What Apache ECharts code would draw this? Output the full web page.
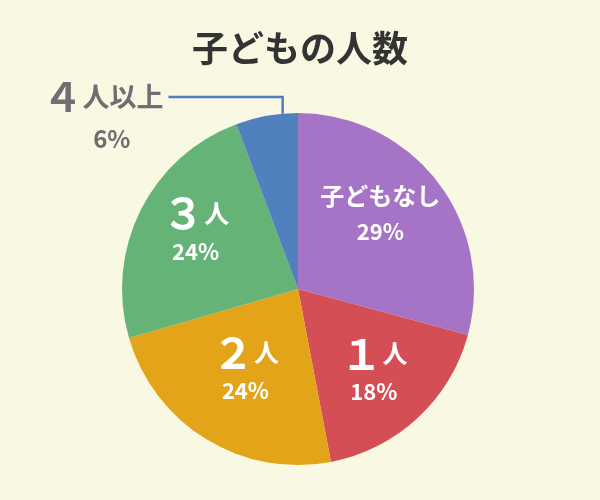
<!DOCTYPE html>
<html>
<head>
<meta charset="utf-8">
<script src="https://cdn.jsdelivr.net/npm/echarts@6/dist/echarts.min.js"></script>
<style>
  html, body { margin: 0; padding: 0; background: #f9f8e3; }
  #main { width: 600px; height: 500px; }
</style>
</head>
<body>
<div id="main"></div>
<script>
// 子どもの人数
var categories = ['子どもなし', '１人', '２人', '３人', '４人以上'];
var values = [29.2, 17.8, 23.5, 23.8, 5.7];
var colors = ['#a674c6', '#d44f55', '#e3a41a', '#66b378', '#5180bf'];
// ラベルの微調整
var labelShift = [[10, -20], [14, 16], [-5, 4], [-21, -17], [0, 0]];
var FONT = '"Noto Sans CJK JP", "Noto Sans", sans-serif';
var pieCenter = [298, 289];
var pieRadius = 176;

var insideFormatter = function (p) {
    var pct = Math.round(p.percent) + '%';
    if (p.name === '子どもなし') {
        return '{t|' + p.name + '}\n{p|' + pct + '}';
    }
    return '{n|' + p.name.charAt(0) + '}{u|' + p.name.slice(1) + '}\n{p|' + pct + '}';
};

var items = [];
for (var i = 0; i < categories.length; i++) {
    items[i] = { name: categories[i], value: values[i], itemStyle: { color: colors[i] } };
}
// ４人以上 は外側ラベル
items[4].label = {
    position: 'outside',
    color: '#6f6f73',
    padding: [40, 0, 0, 0],
    formatter: function (p) {
        return '{n|' + p.name.charAt(0) + '}{u|' + p.name.slice(1) + '}\n{p|' + Math.round(p.percent) + '%}';
    },
    rich: {
        n: { fontFamily: FONT, fontSize: 40, fontWeight: 'bold', color: '#6f6f73', lineHeight: 42 },
        u: { fontFamily: FONT, fontSize: 27, fontWeight: 'bold', color: '#6f6f73', lineHeight: 42 },
        p: { fontFamily: FONT, fontSize: 24, fontWeight: 'bold', color: '#6f6f73', lineHeight: 42, padding: [0, 33, 0, 0] }
    }
};
items[4].labelLine = {
    show: true,
    length: 18,
    length2: 95,
    lineStyle: { color: '#5180bf', width: 2.5 }
};

var chart = echarts.init(document.getElementById('main'));
var option = {
    backgroundColor: '#f9f8e3',
    animation: false,
    title: {
        text: '子どもの人数',
        left: 'center',
        top: 30,
        padding: 0,
        textStyle: { fontFamily: FONT, fontSize: 36, fontWeight: 'bold', color: '#333333' }
    },
    series: [{
        type: 'pie',
        center: pieCenter,
        radius: [0, pieRadius],
        startAngle: 90,
        clockwise: true,
        avoidLabelOverlap: false,
        label: {
            show: true,
            position: 'inside',
            color: '#ffffff',
            formatter: insideFormatter,
            rich: {
                t: { fontFamily: FONT, fontSize: 24, fontWeight: 'bold', color: '#fff', lineHeight: 36 },
                n: { fontFamily: FONT, fontSize: 42, fontWeight: 'bold', color: '#fff', lineHeight: 40 },
                u: { fontFamily: FONT, fontSize: 25, fontWeight: 'bold', color: '#fff', lineHeight: 40 },
                p: { fontFamily: FONT, fontSize: 22, fontWeight: 'bold', color: '#fff', lineHeight: 36 }
            }
        },
        labelLine: { show: false },
        labelLayout: function (params) {
            var s = labelShift[params.dataIndex];
            var res = { dx: s[0], dy: s[1] };
            var pts = params.labelLinePoints;
            if (pts) {
                // 引き出し線: 円周から真上へ、そこから左へ
                var a = -5 * Math.PI / 180;
                var x0 = pieCenter[0] + pieRadius * Math.sin(a);
                var y0 = pieCenter[1] - pieRadius * Math.cos(a);
                var yl = pts[2][1] - 1;
                res.labelLinePoints = [[x0, y0], [x0, yl], [pts[2][0], yl]];
            }
            return res;
        },
        emphasis: { disabled: true },
        data: items
    }]
};
chart.setOption(option);
</script>
</body>
</html>
